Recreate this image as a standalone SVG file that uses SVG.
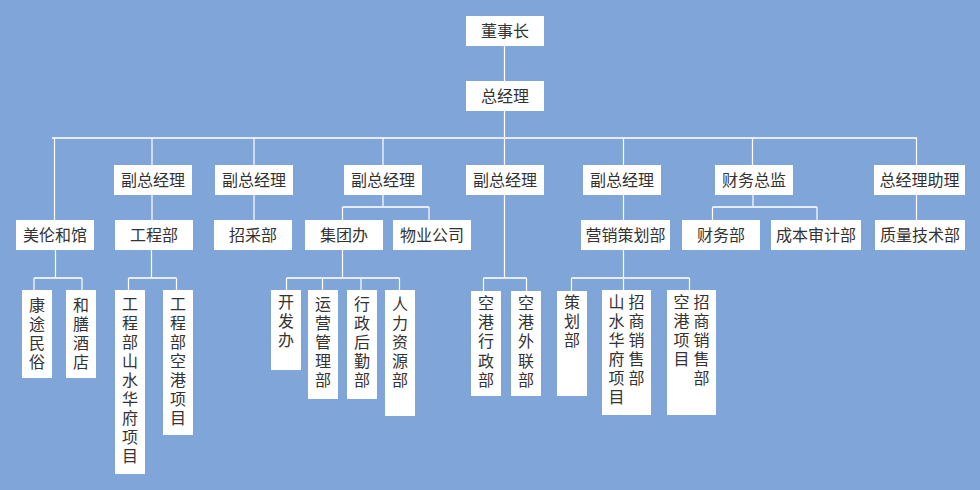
<svg xmlns="http://www.w3.org/2000/svg" width="980" height="490" viewBox="0 0 980 490">
<style>
.bg{fill:#80a6d9}
rect.n{fill:#ffffff}
text{font-family:"Noto Sans CJK SC","Noto Sans",sans-serif;font-size:16px;fill:#333333}
.h{text-anchor:middle}
.v{writing-mode:vertical-rl;text-anchor:start;letter-spacing:3px}
.v2{writing-mode:vertical-rl;text-anchor:start;letter-spacing:3.2px}
#connectors path{fill:none;stroke:#ffffff;stroke-width:1.2}
#connectors path.bus{stroke:#e3ecf8;stroke-width:1.8}
</style>
<rect class="bg" x="0" y="0" width="980" height="490"/>
<g id="connectors">
<path d="M504.5 46V81M504.5 111V165"/>
<path class="bus" d="M52 138H917"/>
<path d="M54.5 138V220M152 138V165M254 138V165M383 138V165M623.5 138V165M752.5 138V165M916.5 138V165"/>
<path d="M152 195V220M254 195V220M623.5 195V290M916.5 195V220M504.5 195V278"/>
<path d="M383 195V207M342.5 207V220M429 207V220M753 195V207M712.5 207V220M817 207V220"/>
<path class="bus" d="M342.5 207H429M712.5 207H817"/>
<path d="M55.5 250V278M34 278V290M82 278V290"/>
<path d="M151.5 250V278M128.5 278V290M176.5 278V290"/>
<path d="M342.5 250V278M286.5 278V290M322.5 278V290M361 278V290M399.5 278V290"/>
<path d="M483.5 278V291M526.5 278V291"/>
<path d="M571.5 278V291M689.5 278V290"/>
<path class="bus" d="M34 278H82M128.5 278H176.5M286.5 278H399.5M483.5 278H526.5M571.5 278H689.5"/>
</g>
<g id="n-dsz"><rect class="n" x="466" y="16" width="78" height="30"/><text class="h" x="505" y="37">董事长</text></g>
<g id="n-zjl"><rect class="n" x="466" y="81" width="78" height="30"/><text class="h" x="505" y="102">总经理</text></g>
<g id="n-fz1"><rect class="n" x="114" y="165" width="78" height="30"/><text class="h" x="153" y="186">副总经理</text></g>
<g id="n-fz2"><rect class="n" x="215" y="165" width="78" height="30"/><text class="h" x="254" y="186">副总经理</text></g>
<g id="n-fz3"><rect class="n" x="344" y="165" width="78" height="30"/><text class="h" x="383" y="186">副总经理</text></g>
<g id="n-fz4"><rect class="n" x="466" y="165" width="78" height="30"/><text class="h" x="505" y="186">副总经理</text></g>
<g id="n-fz5"><rect class="n" x="583" y="165" width="78" height="30"/><text class="h" x="622" y="186">副总经理</text></g>
<g id="n-cwzj"><rect class="n" x="715" y="165" width="78" height="30"/><text class="h" x="754" y="186">财务总监</text></g>
<g id="n-zjlzl"><rect class="n" x="874" y="165" width="91" height="30"/><text class="h" x="919.5" y="186">总经理助理</text></g>
<g id="n-mlhg"><rect class="n" x="16" y="220" width="78" height="30"/><text class="h" x="55" y="241">美伦和馆</text></g>
<g id="n-gcb"><rect class="n" x="115" y="220" width="78" height="30"/><text class="h" x="154" y="241">工程部</text></g>
<g id="n-zcb"><rect class="n" x="214" y="220" width="78" height="30"/><text class="h" x="253" y="241">招采部</text></g>
<g id="n-jtb"><rect class="n" x="305" y="220" width="78" height="30"/><text class="h" x="344" y="241">集团办</text></g>
<g id="n-wygs"><rect class="n" x="393" y="220" width="78" height="30"/><text class="h" x="432" y="241">物业公司</text></g>
<g id="n-yxch"><rect class="n" x="581" y="220" width="89" height="30"/><text class="h" x="625.5" y="241">营销策划部</text></g>
<g id="n-cwb"><rect class="n" x="682" y="220" width="78" height="30"/><text class="h" x="721" y="241">财务部</text></g>
<g id="n-cbsj"><rect class="n" x="771" y="220" width="90" height="30"/><text class="h" x="816" y="241">成本审计部</text></g>
<g id="n-zljs"><rect class="n" x="875" y="220" width="90" height="30"/><text class="h" x="920" y="241">质量技术部</text></g>
<g id="n-ktms"><rect class="n" x="22" y="290" width="30" height="88"/><text class="v" x="37" y="297">康途民俗</text></g>
<g id="n-hsjd"><rect class="n" x="66" y="290" width="30" height="88"/><text class="v" x="81" y="297">和膳酒店</text></g>
<g id="n-gcshs"><rect class="n" x="115" y="290" width="30" height="184"/><text class="v" x="130" y="295.5">工程部山水华府项目</text></g>
<g id="n-gckg"><rect class="n" x="163" y="290" width="30" height="145"/><text class="v" x="178" y="295.5">工程部空港项目</text></g>
<g id="n-kfb"><rect class="n" x="271" y="290" width="30" height="80"/><text class="v" x="286" y="294">开发办</text></g>
<g id="n-yygl"><rect class="n" x="308" y="290" width="30" height="109"/><text class="v" x="323" y="295.5">运营管理部</text></g>
<g id="n-xzhq"><rect class="n" x="347" y="290" width="30" height="109"/><text class="v" x="362" y="295.5">行政后勤部</text></g>
<g id="n-rlzy"><rect class="n" x="385" y="290" width="30" height="126"/><text class="v" x="400" y="295.5">人力资源部</text></g>
<g id="n-kgxz"><rect class="n" x="471" y="291" width="30" height="105"/><text class="v2" x="486" y="295">空港行政部</text></g>
<g id="n-kgwl"><rect class="n" x="511" y="291" width="30" height="105"/><text class="v2" x="526" y="295">空港外联部</text></g>
<g id="n-chb"><rect class="n" x="557" y="291" width="30" height="105"/><text class="v2" x="572" y="294">策划部</text></g>
<g id="n-shzs"><rect class="n" x="602" y="290" width="49" height="125"/><text class="v" x="616.5" y="294">山水华府项目</text><text class="v" x="636.5" y="294">招商销售部</text></g>
<g id="n-kgzs"><rect class="n" x="667" y="290" width="49" height="125"/><text class="v" x="681.5" y="294">空港项目</text><text class="v" x="701.5" y="294">招商销售部</text></g>
</svg>
